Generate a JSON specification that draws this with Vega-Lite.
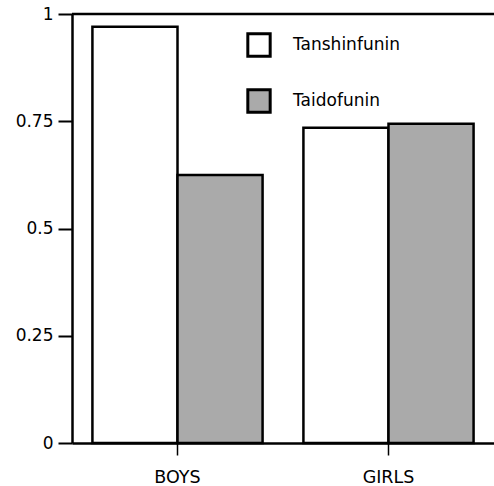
{
  "$schema": "https://vega.github.io/schema/vega-lite/v6.json",
  "width": 422,
  "height": 429,
  "autosize": {"type": "none"},
  "padding": {"left": 72, "top": 14, "right": 0, "bottom": 43},
  "background": "white",
  "config": {
    "view": {"stroke": null},
    "font": "DejaVu Sans"
  },
  "data": {
    "values": [
      {"group": "BOYS", "drug": "Tanshinfunin", "value": 0.97},
      {"group": "BOYS", "drug": "Taidofunin", "value": 0.625},
      {"group": "GIRLS", "drug": "Tanshinfunin", "value": 0.735},
      {"group": "GIRLS", "drug": "Taidofunin", "value": 0.744}
    ]
  },
  "layer": [
    {
      "mark": {"type": "bar", "stroke": "black", "strokeWidth": 2.5},
      "encoding": {
        "x": {
          "field": "group", "type": "nominal",
          "scale": {"paddingInner": 0, "paddingOuter": 0},
          "axis": {"title": null, "labelAngle": 0, "domainColor": "black", "domainWidth": 2.5, "tickColor": "black", "tickWidth": 1.5, "tickSize": 12, "labelFontSize": 17.5, "labelColor": "black", "labelPadding": 13}
        },
        "xOffset": {
          "field": "drug", "type": "nominal",
          "sort": ["Tanshinfunin", "Taidofunin"],
          "scale": {"paddingInner": 0, "paddingOuter": 0.24}
        },
        "y": {
          "field": "value", "type": "quantitative",
          "scale": {"domain": [0, 1], "nice": false},
          "axis": {"title": null, "values": [0, 0.25, 0.5, 0.75, 1], "labelExpr": "'' + datum.value", "grid": false, "domainColor": "black", "domainWidth": 2.5, "tickColor": "black", "tickWidth": 2, "tickSize": 14, "labelFontSize": 17, "labelColor": "black", "labelPadding": 5}
        },
        "fill": {
          "field": "drug", "type": "nominal",
          "sort": ["Tanshinfunin", "Taidofunin"],
          "scale": {"domain": ["Tanshinfunin", "Taidofunin"], "range": ["#ffffff", "#aaaaaa"]},
          "legend": {
            "title": null, "orient": "none", "legendX": 174, "legendY": 18,
            "symbolType": "square", "symbolSize": 500, "symbolStrokeColor": "black", "symbolStrokeWidth": 3,
            "labelFontSize": 17, "labelColor": "black", "labelOffset": 21, "rowPadding": 20
          }
        }
      }
    },
    {
      "mark": {"type": "rule", "color": "black", "strokeWidth": 2.5},
      "data": {"values": [{"top": 1}]},
      "encoding": {"y": {"field": "top", "type": "quantitative"}}
    }
  ]
}
